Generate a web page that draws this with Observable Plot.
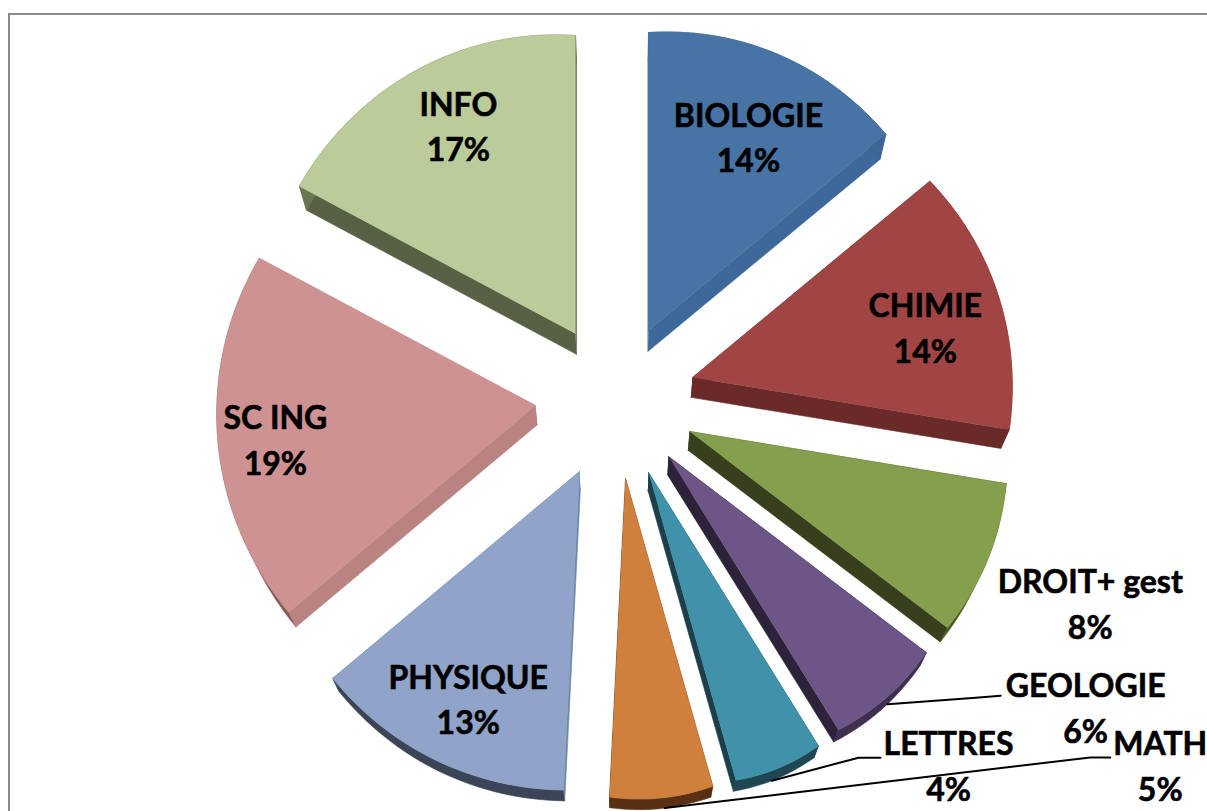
<!DOCTYPE html>
<html><head><meta charset="utf-8">
<script src="https://cdn.jsdelivr.net/npm/d3@7"></script>
<script src="https://cdn.jsdelivr.net/npm/@observablehq/plot@0.6"></script>
<style>
html,body{margin:0;padding:0;background:#fff;overflow:hidden}
#chart{position:absolute;left:0;top:0}
#frame{position:absolute;left:8px;top:13px;right:0;bottom:0;border-left:2px solid #8a8a8a;border-top:2px solid #8a8a8a;pointer-events:none}
</style></head><body>
<div id="chart"></div><div id="frame"></div>
<script>
// data
const categories = ["BIOLOGIE","CHIMIE","DROIT+ gest","GEOLOGIE","LETTRES","MATH","PHYSIQUE","SC ING","INFO"];
const shares = [14.0,13.6,7.75,5.8,4.45,5.2,13.1,18.9,17.2];
const percentLabels = ["14%","14%","8%","6%","4%","5%","13%","19%","17%"];
// styles
const topColors  = ["#4773a5","#a04543","#85a04d","#6d5687","#4092aa","#d0803d","#8fa4c8","#cd9291","#bbcc9a"];
const wallColors = ["#3e6899","#6b2a2a","#383f1c","#2c2239","#1b3f4c","#5a3014","#6e85a8","#b98381","#586144"];
const rimColors  = ["#3c6696","#6b2a2a","#4c5a25","#3f3050","#1e4653","#5a3014","#3c4558","#8a5a5a","#6a7652"];
// pie layout
const center = [615,405];
const boundaryRadius = [298,308,321,324,322,320,319,322,313];
const explodeX = [33,77,74,53,33,10,-36,-80,-40];
const explodeY = [-75,-28,26,51,67,73,66,0,-72];
const bulge = 2;
const vanish = [620,1280], depthScale = 0.978;
const labelAngle  = [26.5,76.2,112.8,122.9,137.4,123.6,206.5,264,330.5];
const labelRadius = [298,319,515,560,492,654,330,342,319];
const labelShiftY = -4;
const leaderEnd = {3:[-85,-10,-110,-8],4:[-68,-6,-90,-6],5:[-50,-6,-70,-6]};
const leaderAt = {3:0.42,4:0.5,5:0.46};

const rad = d => d*Math.PI/180;
const back = ([x,y]) => [vanish[0]+(x-vanish[0])*depthScale, vanish[1]+(y-vanish[1])*depthScale];
const total = d3.sum(shares);
let cum = 0;
const rows = [], tops = [], labels = [], leaders = [];
const slices = categories.map((name,i)=>{
  const a0 = cum/total*360; cum += shares[i]; const a1 = cum/total*360;
  const r0 = boundaryRadius[i], r1 = boundaryRadius[(i+1)%categories.length];
  const apex = [center[0]+explodeX[i], center[1]+explodeY[i]];
  const n = Math.ceil((a1-a0)/1.5);
  const arc = d3.range(n+1).map(k=>{
    const t=k/n, a=rad(a0+(a1-a0)*t), r=r0+(r1-r0)*t+bulge*Math.sin(Math.PI*t);
    return [apex[0]+r*Math.sin(a), apex[1]-r*Math.cos(a)];
  });
  return {name,i,apex,arc,a0,a1};
});
const push = (arr,id,color,pts)=>pts.forEach(p=>arr.push({id,color,x:p[0],y:p[1]}));
slices.forEach(s=>{
  const {i,apex,arc}=s;
  const bArc = arc.map(back), bApex = back(apex);
  push(rows,`${i}s`,wallColors[i],[apex,arc[0],bArc[0],bApex]);
  push(rows,`${i}e`,wallColors[i],[apex,arc[arc.length-1],bArc[bArc.length-1],bApex]);
  push(rows,`${i}r`,rimColors[i],[...arc,...bArc.slice().reverse()]);
  push(tops,`${i}t`,topColors[i],[apex,...arc]);
  const a=rad(labelAngle[i]);
  const lx=center[0]+labelRadius[i]*Math.sin(a), ly=center[1]-labelRadius[i]*Math.cos(a)+labelShiftY;
  labels.push({x:lx,y:ly,text:`${s.name}\n${percentLabels[i]}`});
  if(leaderEnd[i]){
    const o=leaderEnd[i], m=bArc[Math.round((bArc.length-1)*leaderAt[i])];
    leaders.push({id:i,x:m[0],y:m[1]},{id:i,x:lx+o[2],y:ly+o[3]},{id:i,x:lx+o[0],y:ly+o[1]});
  }
});
const poly = d => Plot.line(d,{x:"x",y:"y",z:"id",fill:"color",stroke:"color",strokeWidth:0.6,curve:"linear"});
const chart = Plot.plot({
  width:1207,height:811,margin:0,
  x:{domain:[0,1207],range:[0,1207],axis:null},
  y:{domain:[0,811],range:[0,811],axis:null},
  color:{type:"identity"},
  style:{background:"transparent",overflow:"visible"},
  marks:[
    poly(rows),poly(tops),
    Plot.line(leaders,{x:"x",y:"y",z:"id",stroke:"#000",strokeWidth:2,curve:"linear"}),
    Plot.text(labels,{x:"x",y:"y",text:"text",fontFamily:"Lato",fontWeight:700,fontSize:32,lineHeight:1.43,fill:"#000",stroke:"#000",strokeWidth:0.6,textAnchor:"middle"})
  ]
});
document.getElementById("chart").append(chart);
</script></body></html>
